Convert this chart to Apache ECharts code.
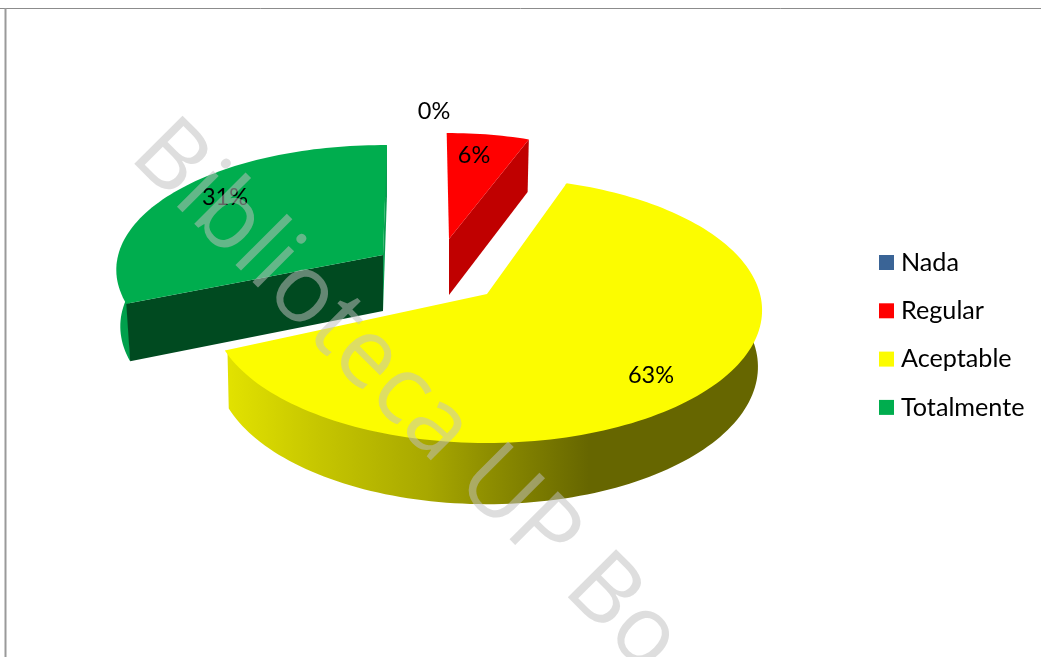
<!DOCTYPE html>
<html><head><meta charset="utf-8">
<style>html,body{margin:0;padding:0;background:#fff}#c{width:1041px;height:657px}</style>
<script src="https://cdn.jsdelivr.net/npm/echarts@6/dist/echarts.min.js"></script>
</head><body><div id="c"></div>
<script>
// Data
var categories = ['Nada', 'Regular', 'Aceptable', 'Totalmente'];
var values = [0, 6, 63, 31];
var labels = ['0%', '6%', '63%', '31%'];
var colors = ['#3A6496', '#FF0000', '#FCFC00', '#00AD4E'];
var watermark = 'Biblioteca UP Bo';

// Look of the 3D pie (layout only)
var START_ANGLE = -2.6, A = 273, B = 130.7, K = 0.1226;
var THICK = 56, SCALE_X = 0.985, SCALE_Y = 0.035;
var layout = [
  {apex:[487,294], radius:1,    flat:1,    turn:0, stretch:1,     label:[-53,-183], z:5},
  {apex:[449,239], radius:0.9,  flat:1,    turn:2, stretch:1,     label:[25,-84],   z:3, cutEnd:'#C00000'},
  {apex:[487,294], radius:1,    flat:1,    turn:0, stretch:1,     label:[164,81],   z:4,
    side:new echarts.graphic.LinearGradient(0,0,1,0,[
      {offset:0,color:'#E2E200'},{offset:0.17,color:'#C6C600'},{offset:0.375,color:'#A8A800'},
      {offset:0.5,color:'#8C8C00'},{offset:0.68,color:'#666600'},{offset:1,color:'#666600'}])},
  {apex:[383,255], radius:0.97, flat:0.97, turn:2, stretch:1.014, label:[-158,-58], z:2, cutStart:'#004A20', cutEnd:'#0A9C50', side:'#00A04C'}
];

function topPoint(l, deg){
  var t = deg*Math.PI/180, u = Math.sin(t)*l.radius, v = Math.cos(t)*l.radius, s = 1+K*v;
  return [l.apex[0]+A*u/s, l.apex[1]-B*l.flat*v/s];
}
function lower(l, p){
  return [l.apex[0]+(p[0]-l.apex[0])*SCALE_X, p[1]+THICK+(p[1]-l.apex[1])*SCALE_Y];
}
function inner(l, p){
  return [l.apex[0]+(p[0]-l.apex[0])*0.99, l.apex[1]+(p[1]-l.apex[1])*0.99];
}
function poly(points, fill, z2){
  return {type:'polygon', z2:z2, shape:{points:points}, style:{fill:fill}, silent:true};
}
var total = values.reduce(function(a,b){return a+b;},0);
function makeRender(i){
  return function(params, api){
    var before = 0; for (var j=0;j<i;j++) before += values[j];
    var value = api.value(0), l = layout[i];
    var a0 = START_ANGLE + l.turn + before/total*360, a1 = a0 + value/total*360*l.stretch;
    var kids = [];
    if (value > 0){
      var rim = [], n = Math.max(2, Math.ceil((a1-a0)/1.5));
      for (var k=0;k<=n;k++) rim.push(topPoint(l, a0+(a1-a0)*k/n));
      var low = rim.map(function(p){return lower(l,p);});
      var apexLow = lower(l,l.apex);
      if (l.side) kids.push(poly(rim.map(function(p){return inner(l,p);}).concat(low.slice().reverse()), l.side, 1));
      if (l.cutStart) kids.push(poly([l.apex,rim[0],low[0],apexLow], l.cutStart, 2));
      if (l.cutEnd) kids.push(poly([l.apex,rim[n],low[n],apexLow], l.cutEnd, 2));
      kids.push(poly([l.apex].concat(rim), colors[i], 3));
    }
    kids.push({type:'text', z2:10, silent:true, style:{
      text:labels[i], x:l.apex[0]+l.label[0], y:l.apex[1]+l.label[1],
      align:'center', verticalAlign:'middle', fill:'#000', font:'23.5px Lato'}});
    return {type:'group', children:kids};
  };
}
var series = categories.map(function(name,i){
  return {type:'custom', name:name, coordinateSystem:'none', z:layout[i].z,
    renderItem:makeRender(i), data:[[values[i]]], itemStyle:{color:colors[i]}, silent:true, animation:false};
});
var chart = echarts.init(document.getElementById('c'), null, {renderer:'canvas'});
chart.setOption({
  animation:false,
  backgroundColor:'#fff',
  legend:{
    data:categories.map(function(n,i){return {name:n, itemStyle:{color:colors[i]}};}),
    orient:'vertical', left:879, top:250, itemWidth:15, itemHeight:15, itemGap:23.3, icon:'rect',
    selectedMode:false, padding:0,
    textStyle:{fontFamily:'Lato', fontSize:25.2, color:'#000', lineHeight:25, padding:[0,0,0,2]}
  },
  series:series,
  graphic:[
    {type:'line', z:1, silent:true, shape:{x1:0,y1:8.5,x2:1041,y2:8.5}, style:{stroke:'#8C8C8C',lineWidth:1}},
    {type:'line', z:1, silent:true, shape:{x1:5.5,y1:8,x2:5.5,y2:657}, style:{stroke:'#9A9A9A',lineWidth:2}},
    {type:'text', z:100, silent:true, x:113, y:172, rotation:-Math.PI/4,
      style:{text:watermark, font:'95.5px "Open Sans"', fill:'rgba(192,192,192,0.52)', align:'left', verticalAlign:'bottom'}}
  ]
});
</script></body></html>
